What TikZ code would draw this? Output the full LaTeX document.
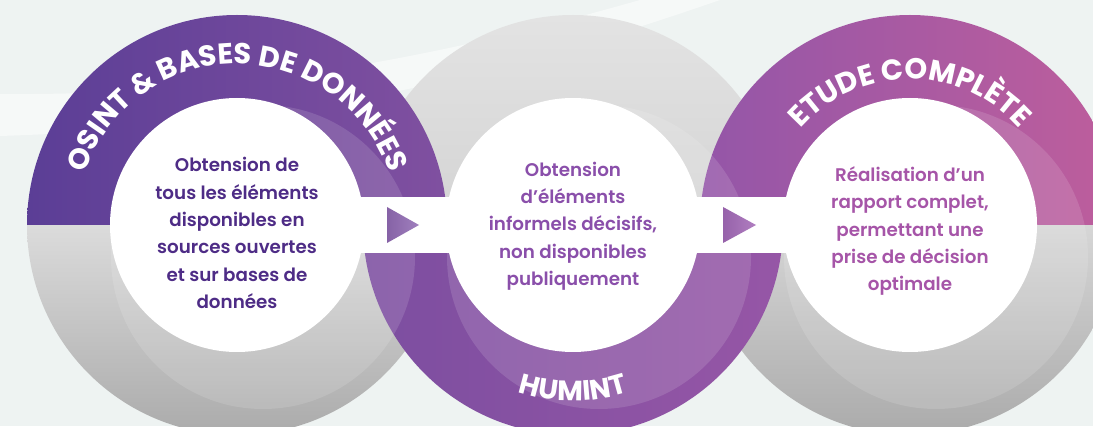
\documentclass[tikz,border=0pt]{standalone}
\usepackage{fontspec}
\setmainfont{Poppins}[UprightFont=*-SemiBold,BoldFont=*-Bold]
\usepackage{xcolor}
\usetikzlibrary{positioning,calc,decorations.text}
\definecolor{bgcol}{HTML}{EEF3F2}
\definecolor{osintcol}{HTML}{4E2C86}
\definecolor{humintcol}{HTML}{8A4FAA}
\definecolor{etudecol}{HTML}{A655A8}

\begin{document}
\begin{tikzpicture}[x=1pt, y=1pt,
  inner/.style={circle, fill=white, minimum size=254pt, inner sep=0pt},
  body/.style={align=center, font=\fontsize{18.3}{27.3}\selectfont},
  highlight/.style={white, opacity=.13}]
\fill[bgcol] (0,0) rectangle (1093,426);
\useasboundingbox (0,0) rectangle (1093,426);
% light swoosh in the background
\fill[white, opacity=.5] (0,290) .. controls (300,300) and (500,350) .. (720,426)
  -- (640,426) .. controls (450,372) and (250,330) .. (0,332) -- cycle;

\coordinate (c1) at (237,201);
\coordinate (c2) at (573,201);
\coordinate (c3) at (910,201);

% grey halves first, purple halves over them
\shade[top color=black!14, bottom color=black!33]
  ($(c1)+(210,0)$) arc[start angle=0, end angle=-180, radius=210] -- cycle;
\shade[top color=black!11, bottom color=black!17]
  ($(c2)+(210,0)$) arc[start angle=0, end angle=180, radius=210] -- cycle;
\shade[top color=black!16, bottom color=black!33]
  ($(c3)+(210,0)$) arc[start angle=0, end angle=-180, radius=210] -- cycle;
\shade[left color={rgb,255:red,91;green,62;blue,150}, right color={rgb,255:red,128;green,80;blue,160}]
  ($(c1)+(210,0)$) arc[start angle=0, end angle=180, radius=210] -- cycle;
\shade[left color={rgb,255:red,124;green,78;blue,160}, right color={rgb,255:red,150;green,86;blue,166}]
  ($(c2)+(210,0)$) arc[start angle=0, end angle=-180, radius=210] -- cycle;
\shade[left color={rgb,255:red,148;green,86;blue,168}, right color={rgb,255:red,190;green,94;blue,156}]
  ($(c3)+(210,0)$) arc[start angle=0, end angle=180, radius=210] -- cycle;

% sheen of each ring
\foreach \c in {c1,c2,c3}{
  \begin{scope}
    \clip (\c) circle (210);
    \fill[highlight] ($(\c)+(26,-32)$) circle (152);
  \end{scope}
}

% white band between the discs
\fill[white] ($(c1)+(0,-28)$) rectangle ($(c3)+(0,28)$);

\node[inner] (osint) at (c1) {};
\node[inner] (humint) at (c2) {};
\node[inner] (etude) at (c3) {};

\node[body, text=osintcol] (osintTxt) at ([yshift=-8pt]osint.center)
  {Obtension de\\tous les éléments\\disponibles en\\sources ouvertes\\et sur bases de\\données};
\node[body, text=humintcol] (humintTxt) at ([yshift=-1pt]humint.center)
  {Obtension\\d’éléments\\informels décisifs,\\non disponibles\\publiquement};
\node[body, text=etudecol] (etudeTxt) at ([yshift=-6pt]etude.center)
  {Réalisation d’un\\rapport complet,\\permettant une\\prise de décision\\optimale};

% arrows in the band
\shade[left color={rgb,255:red,134;green,98;blue,166}, right color={rgb,255:red,160;green,128;blue,190}]
  (387,219) -- (419,201) -- (387,183) -- cycle;
\shade[left color={rgb,255:red,150;green,98;blue,170}, right color={rgb,255:red,176;green,126;blue,192}]
  (723,219) -- (756,201) -- (723,183) -- cycle;

% titles along the rings
\path[decorate, decoration={text along path, text align=center,
  text={|\fontsize{29}{29}\bfseries\color{white}|OSINT {\&} BASES DE DONNÉES}}]
  ($(c1)+(178:161)$) arc[start angle=178, end angle=2, radius=161];
\path[decorate, decoration={text along path, text align=center,
  text={|\fontsize{28}{28}\bfseries\color{white}|HUMINT}}]
  ($(c2)+(230:176)$) arc[start angle=230, end angle=310, radius=176];
\path[decorate, decoration={text along path, text align=center,
  text={|\fontsize{29}{29}\bfseries\color{white}|ETUDE COMPLÈTE}}]
  ($(c3)+(172:146)$) arc[start angle=172, end angle=8, radius=146];
\end{tikzpicture}
\end{document}
